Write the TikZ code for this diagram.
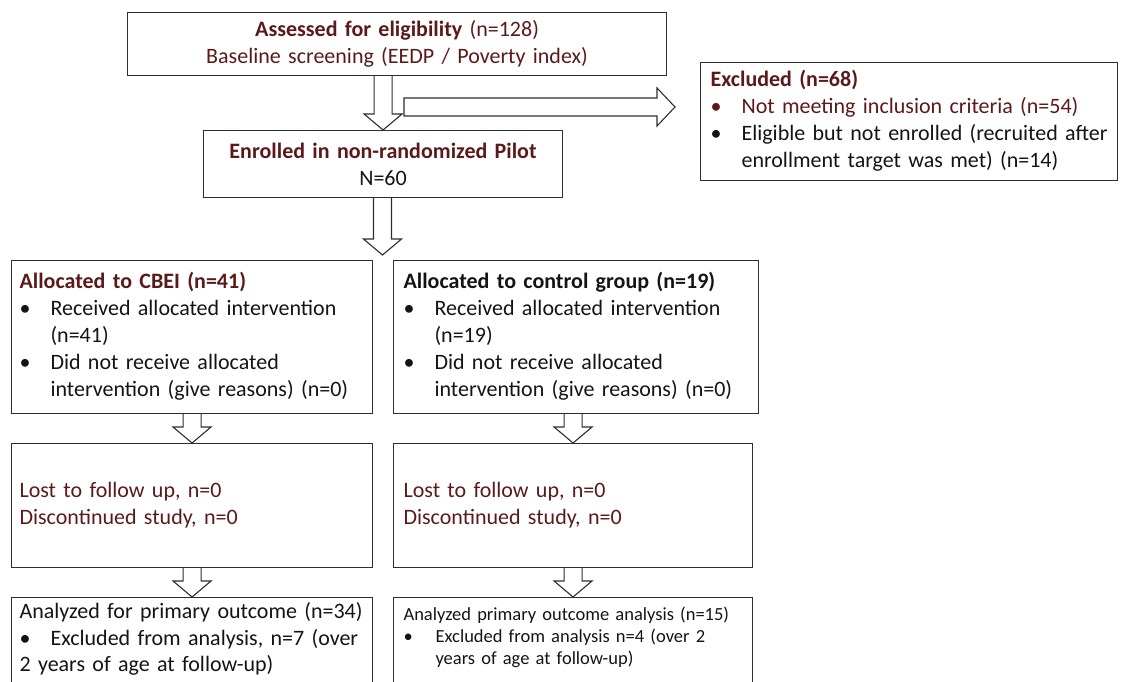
\documentclass[tikz,border=0pt]{standalone}
\usepackage{fontspec}
\setmainfont{Carlito}
\usepackage{tikz}
\usetikzlibrary{calc}
\definecolor{darkred}{HTML}{5B1A1A}
\definecolor{inkblack}{HTML}{141414}
\definecolor{boxline}{HTML}{2E2E2E}
\newcommand{\bodyfont}{\fontsize{22pt}{26.8pt}\selectfont}
\newcommand{\smallbody}{\fontsize{18.5pt}{22pt}\selectfont}
\newcommand{\blt}{\makebox[31pt][l]{\textbullet}}
\newcommand{\bulgap}{\hspace*{31pt}}
\newcommand{\lines}[1]{\begin{tabular}{@{}l@{}}#1\end{tabular}}
\newcommand{\blockdown}[2]{%
  \draw[blockarrow] let \p1=(#1), \p2=(#2) in
    (\x2-9pt,\y1) -- (\x2-9pt,\y2+16pt) -- (\x2-19pt,\y2+16pt) -- (\x2,\y2)
    -- (\x2+19pt,\y2+16pt) -- (\x2+9pt,\y2+16pt) -- (\x2+9pt,\y1);}
\newcommand{\blockright}[2]{%
  \draw[blockarrow] let \p1=(#1), \p2=(#2) in
    (\x1,\y2+9pt) -- (\x2-18pt,\y2+9pt) -- (\x2-18pt,\y2+19pt) -- (\x2,\y2)
    -- (\x2-18pt,\y2-19pt) -- (\x2-18pt,\y2-9pt) -- (\x1,\y2-9pt) -- cycle;}

\begin{document}
\begin{tikzpicture}[x=1pt, y=-1pt]
  \tikzset{box/.style={draw=boxline, line width=1.1pt, anchor=north west,
                       inner xsep=8pt, inner ysep=0pt, font=\bodyfont,
                       text=inkblack, align=left},
           blockarrow/.style={draw=boxline, line width=1.1pt, line join=miter}}
  \useasboundingbox (0,0) rectangle (1129,682);

  % top part
  \node[box, align=center, text=darkred, text width=523pt, minimum height=63pt] (assess) at (127,12)
    {\textbf{Assessed for eligibility} (n=128)\\Baseline screening (EEDP / Poverty index)};
  \node[box, align=center, text=darkred, text width=343pt, minimum height=67pt] (enrolled) at (203,130)
    {\textbf{Enrolled in non-randomized Pilot}\\{\color{inkblack}N=60}};
  \node[box, inner xsep=10pt, text width=397pt, minimum height=118pt] (excluded) at (700,62)
    {\lines{\textbf{\color{darkred}Excluded (n=68)}\\
            \color{darkred}\blt Not meeting inclusion criteria (n=54)\\
            \blt Eligible but not enrolled (recruited after\\
            \bulgap enrollment target was met) (n=14)}};

  % allocation
  \node[box, text width=345pt, minimum height=153pt] (cbei) at (11,260)
    {\lines{\textbf{\color{darkred}Allocated to CBEI (n=41)}\\
            \blt Received allocated intervention\\
            \bulgap (n=41)\\
            \blt Did not receive allocated\\
            \bulgap intervention (give reasons) (n=0)}};
  \node[box, inner xsep=10pt, text width=345pt, minimum height=153pt] (control) at (393,260)
    {\lines{\textbf{Allocated to control group (n=19)}\\
            \blt Received allocated intervention\\
            \bulgap (n=19)\\
            \blt Did not receive allocated\\
            \bulgap intervention (give reasons) (n=0)}};

  % follow up
  \node[box, text=darkred, text width=345pt, minimum height=124pt] (lost1) at (11,443)
    {\lines{Lost to follow up, n=0\\Discontinued study, n=0}};
  \node[box, text=darkred, inner xsep=10pt, text width=339pt, minimum height=124pt] (lost2) at (393,443)
    {\lines{Lost to follow up, n=0\\Discontinued study, n=0}};

  % analysis
  \node[box, inner ysep=2pt, text width=345pt] (anal1) at (11,597)
    {\lines{Analyzed for primary outcome (n=34)\\
            \blt Excluded from analysis, n=7 (over\\
            2 years of age at follow-up)\\[60pt]}};
  \node[box, font=\smallbody, inner xsep=10pt, inner ysep=8pt, text width=339pt] (anal2) at (393,597)
    {\lines{Analyzed primary outcome analysis (n=15)\\
            \makebox[32pt][l]{\textbullet}Excluded from analysis n=4 (over 2\\
            \hspace*{32pt}years of age at follow-up)\\[60pt]}};

  % block arrows
  \coordinate (exfrom) at (404,107);
  \coordinate (exto) at (675,107);
  \coordinate (split) at (382.5,255);
  \blockdown{assess.south}{enrolled.north}
  \blockright{exfrom}{exto}
  \blockdown{enrolled.south}{split}
  \blockdown{cbei.south}{lost1.north}
  \blockdown{control.south}{lost2.north}
  \blockdown{lost1.south}{anal1.north}
  \blockdown{lost2.south}{anal2.north}
\end{tikzpicture}
\end{document}
